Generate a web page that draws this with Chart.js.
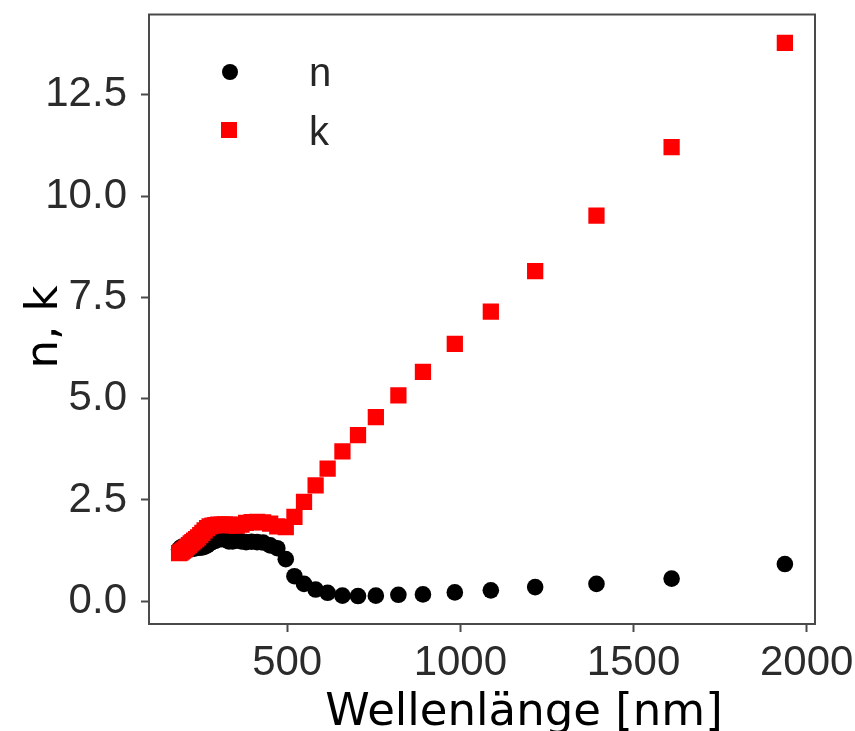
<!DOCTYPE html>
<html>
<head>
<meta charset="utf-8">
<script src="https://cdn.jsdelivr.net/npm/chart.js@4.4.0/dist/chart.umd.min.js"></script>
<style>
  html, body { margin: 0; padding: 0; background: #fff; }
  #wrap { width: 855px; height: 731px; }
</style>
</head>
<body>
<div id="wrap"><canvas id="nkChart" width="855" height="731"></canvas></div>
<script>
// Au, Johnson & Christy
const wavelengths = [187.9, 191.6, 195.3, 199.3, 203.3, 207.3, 211.9, 216.4, 221.4, 226.2,
    231.3, 237.1, 242.6, 249.0, 255.1, 261.6, 268.9, 276.1, 284.4, 292.4,
    300.9, 310.7, 320.4, 331.5, 342.5, 354.2, 367.9, 381.5, 397.4, 413.3,
    430.5, 450.9, 471.4, 495.9, 520.9, 548.6, 582.1, 616.8, 659.5, 704.5,
    756.0, 821.1, 892.0, 984.0, 1088, 1216, 1393, 1610, 1937];
const nValues = [1.28, 1.32, 1.34, 1.33, 1.33, 1.30, 1.30, 1.30, 1.30, 1.31,
    1.30, 1.32, 1.32, 1.33, 1.33, 1.35, 1.38, 1.43, 1.47, 1.49,
    1.53, 1.53, 1.54, 1.48, 1.48, 1.50, 1.48, 1.46, 1.47, 1.46,
    1.45, 1.38, 1.31, 1.04, 0.62, 0.43, 0.29, 0.21, 0.14, 0.13,
    0.14, 0.16, 0.17, 0.22, 0.27, 0.35, 0.43, 0.56, 0.92];
const kValues = [1.188, 1.203, 1.226, 1.251, 1.277, 1.304, 1.350, 1.387, 1.427, 1.460,
    1.497, 1.536, 1.577, 1.631, 1.688, 1.749, 1.803, 1.847, 1.869, 1.878,
    1.889, 1.893, 1.898, 1.883, 1.871, 1.866, 1.895, 1.933, 1.952, 1.958,
    1.948, 1.914, 1.849, 1.833, 2.081, 2.455, 2.863, 3.272, 3.697, 4.103,
    4.542, 5.083, 5.663, 6.350, 7.150, 8.145, 9.519, 11.21, 13.78];
const xTicks = [500, 1000, 1500, 2000];
const yTicks = [0, 2.5, 5, 7.5, 10, 12.5];

const tickFont = { family: '"Liberation Sans", Arial, sans-serif', size: 42 };
const titleFont = '45px "DejaVu Sans", sans-serif';
const tickColor = '#2b2b2b';
const frameColor = '#4a4a4a';

function toPoints(ys) {
    return wavelengths.map((x, i) => ({ x: x, y: ys[i] }));
}

// frame round the plot, like the matplotlib spines
const framePlugin = {
    id: 'frame',
    afterDatasetsDraw(chart) {
        const a = chart.chartArea;
        const ctx = chart.ctx;
        ctx.save();
        ctx.strokeStyle = frameColor;
        ctx.lineWidth = 2;
        ctx.strokeRect(a.left, a.top, a.right - a.left, a.bottom - a.top);
        ctx.restore();
    }
};

// legend inside the axes, top left
const legendPlugin = {
    id: 'innerLegend',
    afterDraw(chart) {
        const ctx = chart.ctx;
        ctx.save();
        ctx.fillStyle = '#000';
        ctx.beginPath();
        ctx.arc(230, 72, 8, 0, Math.PI * 2);
        ctx.fill();
        ctx.fillStyle = '#ff0000';
        ctx.fillRect(221, 122, 16, 16);
        ctx.fillStyle = '#262626';
        ctx.font = '40px "Liberation Sans", Arial, sans-serif';
        ctx.textBaseline = 'alphabetic';
        ctx.textAlign = 'left';
        ctx.fillText('n', 309, 86);
        ctx.fillText('k', 309, 145);
        ctx.restore();
    }
};

// axis titles
const titlePlugin = {
    id: 'axisTitles',
    afterDraw(chart) {
        const ctx = chart.ctx;
        ctx.save();
        ctx.fillStyle = '#000';
        ctx.font = titleFont;
        ctx.textAlign = 'center';
        ctx.textBaseline = 'alphabetic';
        ctx.fillText('Wellenlänge [nm]', 524, 725);
        ctx.translate(57, 327);
        ctx.rotate(-Math.PI / 2);
        ctx.fillText('n, k', 0, 0);
        ctx.restore();
    }
};

const ctx = document.getElementById('nkChart').getContext('2d');
new Chart(ctx, {
    type: 'scatter',
    data: {
        datasets: [{
            label: 'n',
            data: toPoints(nValues),
            order: 1,
            pointStyle: 'circle',
            pointRadius: 8.3,
            backgroundColor: '#000',
            borderWidth: 0
        }, {
            label: 'k',
            data: toPoints(kValues),
            order: 0,
            pointStyle: 'rect',
            pointRadius: 11.5,
            backgroundColor: '#ff0000',
            borderWidth: 0
        }]
    },
    options: {
        responsive: false,
        animation: false,
        events: [],
        layout: { padding: { top: 14.5, right: 40, bottom: 0, left: 0 } },
        plugins: {
            legend: { display: false },
            tooltip: { enabled: false }
        },
        scales: {
            x: {
                type: 'linear',
                min: 101,
                max: 2024,
                afterBuildTicks: s => { s.ticks = xTicks.map(v => ({ value: v })); },
                afterFit: s => {
                    s.height = 107;
                    s.paddingLeft = 0; s.paddingRight = 0;
                },
                ticks: {
                    font: tickFont, color: tickColor, padding: 6, maxRotation: 0, autoSkip: false,
                    callback: v => String(v)
                },
                grid: { drawOnChartArea: false, tickLength: 8, tickWidth: 2, tickColor: frameColor },
                border: { display: false }
            },
            y: {
                type: 'linear',
                min: -0.56,
                max: 14.48,
                afterBuildTicks: s => { s.ticks = yTicks.map(v => ({ value: v })); },
                afterFit: s => {
                    s.width = 149;
                    s.paddingTop = 0; s.paddingBottom = 0;
                },
                ticks: {
                    font: tickFont, color: tickColor, padding: 14,
                    callback: v => v.toFixed(1)
                },
                grid: { drawOnChartArea: false, tickLength: 8, tickWidth: 2, tickColor: frameColor },
                border: { display: false }
            }
        }
    },
    plugins: [framePlugin, legendPlugin, titlePlugin]
});
</script>
</body>
</html>
